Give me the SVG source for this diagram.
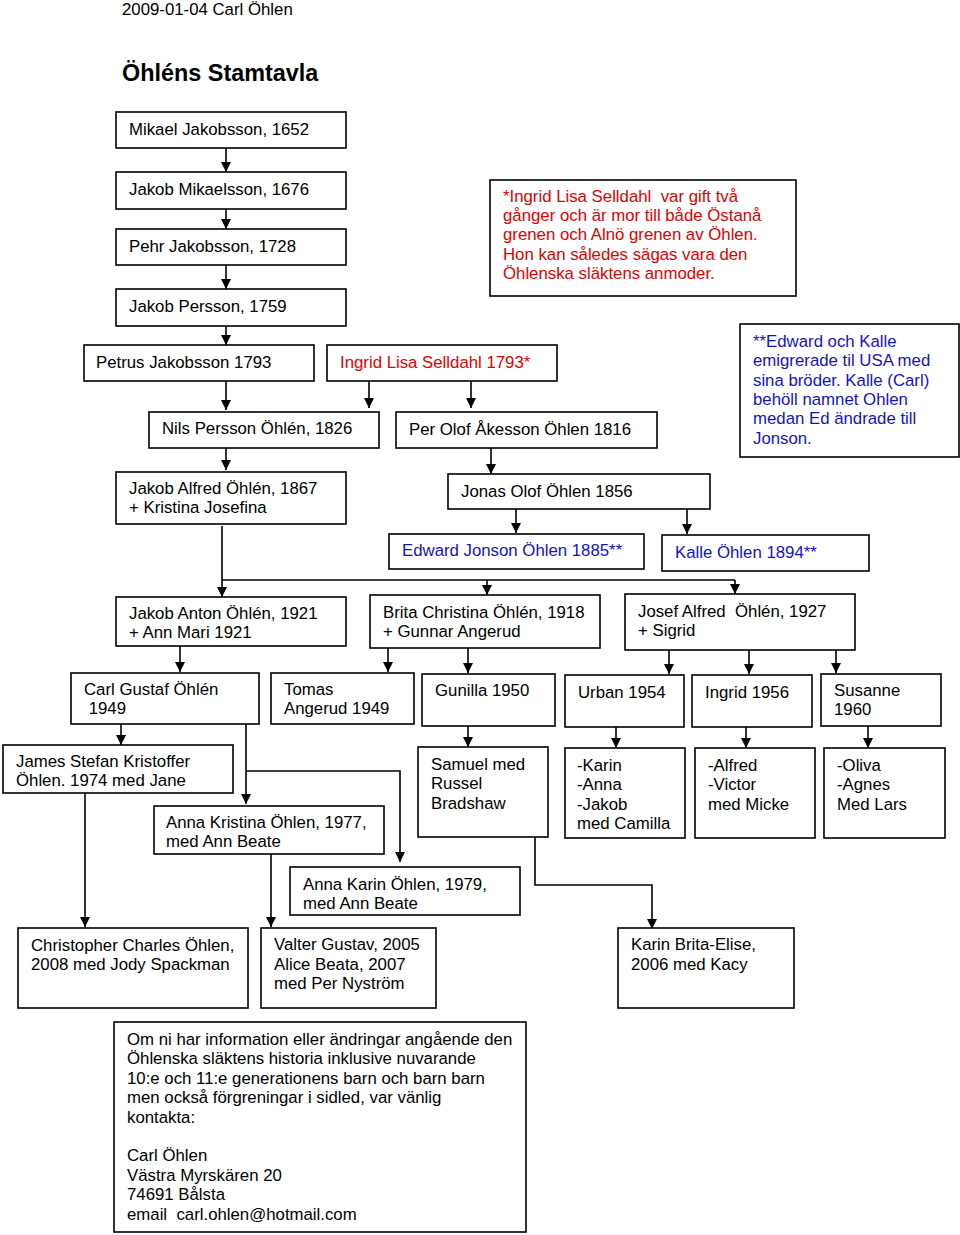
<svg xmlns="http://www.w3.org/2000/svg" width="960" height="1235" viewBox="0 0 960 1235">
<style>
text{font-family:"Liberation Sans",Arial,sans-serif;font-size:16.8px;fill:#000;white-space:pre}
.box{fill:#fff;stroke:#000;stroke-width:1.6}
.red{fill:#e00000}
.blue{fill:#1414c0}
.title{font-weight:bold;font-size:23.4px}
.c{fill:none;stroke:#000;stroke-width:1.6}
</style>
<defs>
<marker id="ah" viewBox="0 0 10 10" refX="10" refY="5" markerWidth="12" markerHeight="10" markerUnits="userSpaceOnUse" orient="auto">
<path d="M0,0 L10,5 L0,10 z" fill="#000"/>
</marker>
</defs>
<rect width="960" height="1235" fill="#fff"/>
<text x="122" y="15">2009-01-04 Carl Öhlen</text>
<text class="title" x="122" y="81">Öhléns Stamtavla</text>

<g id="connectors">
<line class="c" x1="226" y1="148" x2="226" y2="172" marker-end="url(#ah)"/>
<line class="c" x1="226" y1="209" x2="226" y2="229" marker-end="url(#ah)"/>
<line class="c" x1="226" y1="265" x2="226" y2="289" marker-end="url(#ah)"/>
<line class="c" x1="226" y1="326" x2="226" y2="345" marker-end="url(#ah)"/>
<line class="c" x1="226" y1="381" x2="226" y2="410" marker-end="url(#ah)"/>
<line class="c" x1="369" y1="381" x2="369" y2="408" marker-end="url(#ah)"/>
<line class="c" x1="471" y1="381" x2="471" y2="408" marker-end="url(#ah)"/>
<line class="c" x1="226" y1="448" x2="226" y2="470" marker-end="url(#ah)"/>
<line class="c" x1="491" y1="448" x2="491" y2="474" marker-end="url(#ah)"/>
<line class="c" x1="516" y1="509" x2="516" y2="533" marker-end="url(#ah)"/>
<line class="c" x1="687" y1="509" x2="687" y2="534" marker-end="url(#ah)"/>
<polyline class="c" points="222,526 222,580 735,580"/>
<line class="c" x1="222" y1="580" x2="222" y2="597" marker-end="url(#ah)"/>
<line class="c" x1="487" y1="580" x2="487" y2="595" marker-end="url(#ah)"/>
<line class="c" x1="735" y1="580" x2="735" y2="594" marker-end="url(#ah)"/>
<line class="c" x1="180" y1="646" x2="180" y2="672" marker-end="url(#ah)"/>
<line class="c" x1="388" y1="648" x2="388" y2="672" marker-end="url(#ah)"/>
<line class="c" x1="468" y1="648" x2="468" y2="673" marker-end="url(#ah)"/>
<line class="c" x1="669" y1="650" x2="669" y2="674" marker-end="url(#ah)"/>
<line class="c" x1="749" y1="650" x2="749" y2="674" marker-end="url(#ah)"/>
<line class="c" x1="836" y1="650" x2="836" y2="673" marker-end="url(#ah)"/>
<line class="c" x1="121" y1="724" x2="121" y2="745" marker-end="url(#ah)"/>
<line class="c" x1="246" y1="724" x2="246" y2="804" marker-end="url(#ah)"/>
<polyline class="c" points="246,771 400,771 400,862" marker-end="url(#ah)"/>
<line class="c" x1="468" y1="726" x2="468" y2="747" marker-end="url(#ah)"/>
<line class="c" x1="616" y1="727" x2="616" y2="748" marker-end="url(#ah)"/>
<line class="c" x1="746" y1="727" x2="746" y2="748" marker-end="url(#ah)"/>
<line class="c" x1="868" y1="726" x2="868" y2="748" marker-end="url(#ah)"/>
<line class="c" x1="85" y1="793" x2="85" y2="927" marker-end="url(#ah)"/>
<line class="c" x1="271" y1="854" x2="271" y2="927" marker-end="url(#ah)"/>
<polyline class="c" points="535,837 535,885 652,885 652,929" marker-end="url(#ah)"/>
</g>

<g id="n-mikael"><rect class="box" x="116" y="112" width="230" height="36"/><text x="129" y="135">Mikael Jakobsson, 1652</text></g>
<g id="n-jakobm"><rect class="box" x="116" y="172" width="230" height="37"/><text x="129" y="195">Jakob Mikaelsson, 1676</text></g>
<g id="n-pehr"><rect class="box" x="116" y="229" width="230" height="36"/><text x="129" y="252">Pehr Jakobsson, 1728</text></g>
<g id="n-jakobp"><rect class="box" x="116" y="289" width="230" height="37"/><text x="129" y="312">Jakob Persson, 1759</text></g>
<g id="note-ingrid"><rect class="box" x="490" y="180" width="306" height="116"/>
<text class="red"><tspan x="503" y="202">*Ingrid Lisa Selldahl  var gift två</tspan><tspan x="503" y="221">gånger och är mor till både Östanå</tspan><tspan x="503" y="240">grenen och Alnö grenen av Öhlen.</tspan><tspan x="503" y="260">Hon kan således sägas vara den</tspan><tspan x="503" y="279">Öhlenska släktens anmoder.</tspan></text></g>
<g id="n-petrus"><rect class="box" x="84" y="345" width="230" height="36"/><text x="96" y="368">Petrus Jakobsson 1793</text></g>
<g id="n-ingrid"><rect class="box" x="327" y="345" width="230" height="36"/><text class="red" x="340" y="368">Ingrid Lisa Selldahl 1793*</text></g>
<g id="note-edward"><rect class="box" x="740" y="324" width="219" height="133"/>
<text class="blue"><tspan x="753" y="347">**Edward och Kalle</tspan><tspan x="753" y="366">emigrerade til USA med</tspan><tspan x="753" y="386">sina bröder. Kalle (Carl)</tspan><tspan x="753" y="405">behöll namnet Ohlen</tspan><tspan x="753" y="424">medan Ed ändrade till</tspan><tspan x="753" y="444">Jonson.</tspan></text></g>
<g id="n-nils"><rect class="box" x="149" y="412" width="230" height="36"/><text x="162" y="434">Nils Persson Öhlén, 1826</text></g>
<g id="n-perolof"><rect class="box" x="396" y="412" width="261" height="36"/><text x="409" y="435">Per Olof Åkesson Öhlen 1816</text></g>
<g id="n-jakobalfred"><rect class="box" x="116" y="472" width="230" height="52"/><text><tspan x="129" y="494">Jakob Alfred Öhlén, 1867</tspan><tspan x="129" y="513">+ Kristina Josefina</tspan></text></g>
<g id="n-jonas"><rect class="box" x="448" y="474" width="262" height="35"/><text x="461" y="497">Jonas Olof Öhlen 1856</text></g>
<g id="n-edward"><rect class="box" x="389" y="534" width="255" height="35"/><text class="blue" x="402" y="556">Edward Jonson Öhlen 1885**</text></g>
<g id="n-kalle"><rect class="box" x="662" y="535" width="207" height="36"/><text class="blue" x="675" y="558">Kalle Öhlen 1894**</text></g>
<g id="n-jakobanton"><rect class="box" x="116" y="597" width="230" height="49"/><text><tspan x="129" y="619">Jakob Anton Öhlén, 1921</tspan><tspan x="129" y="638">+ Ann Mari 1921</tspan></text></g>
<g id="n-brita"><rect class="box" x="370" y="595" width="230" height="53"/><text><tspan x="383" y="618">Brita Christina Öhlén, 1918</tspan><tspan x="383" y="637">+ Gunnar Angerud</tspan></text></g>
<g id="n-josef"><rect class="box" x="625" y="594" width="230" height="56"/><text><tspan x="638" y="617">Josef Alfred  Öhlén, 1927</tspan><tspan x="638" y="636">+ Sigrid</tspan></text></g>
<g id="n-carlgustaf"><rect class="box" x="71" y="673" width="188" height="51"/><text><tspan x="84" y="695">Carl Gustaf Öhlén</tspan><tspan x="84" y="714"> 1949</tspan></text></g>
<g id="n-tomas"><rect class="box" x="271" y="673" width="143" height="51"/><text><tspan x="284" y="695">Tomas</tspan><tspan x="284" y="714">Angerud 1949</tspan></text></g>
<g id="n-gunilla"><rect class="box" x="422" y="674" width="133" height="52"/><text x="435" y="696">Gunilla 1950</text></g>
<g id="n-urban"><rect class="box" x="565" y="675" width="119" height="52"/><text x="578" y="698">Urban 1954</text></g>
<g id="n-ingrid1956"><rect class="box" x="692" y="675" width="120" height="52"/><text x="705" y="698">Ingrid 1956</text></g>
<g id="n-susanne"><rect class="box" x="821" y="674" width="120" height="52"/><text><tspan x="834" y="696">Susanne</tspan><tspan x="834" y="715">1960</tspan></text></g>
<g id="n-james"><rect class="box" x="3" y="745" width="230" height="48"/><text><tspan x="16" y="767">James Stefan Kristoffer</tspan><tspan x="16" y="786">Öhlen. 1974 med Jane</tspan></text></g>
<g id="n-samuel"><rect class="box" x="418" y="747" width="130" height="90"/><text><tspan x="431" y="770">Samuel med</tspan><tspan x="431" y="789">Russel</tspan><tspan x="431" y="809">Bradshaw</tspan></text></g>
<g id="n-karin"><rect class="box" x="565" y="748" width="120" height="90"/><text><tspan x="577" y="771">-Karin</tspan><tspan x="577" y="790">-Anna</tspan><tspan x="577" y="810">-Jakob</tspan><tspan x="577" y="829">med Camilla</tspan></text></g>
<g id="n-alfred"><rect class="box" x="695" y="748" width="120" height="90"/><text><tspan x="708" y="771">-Alfred</tspan><tspan x="708" y="790">-Victor</tspan><tspan x="708" y="810">med Micke</tspan></text></g>
<g id="n-oliva"><rect class="box" x="824" y="748" width="121" height="90"/><text><tspan x="837" y="771">-Oliva</tspan><tspan x="837" y="790">-Agnes</tspan><tspan x="837" y="810">Med Lars</tspan></text></g>
<g id="n-annakristina"><rect class="box" x="154" y="806" width="230" height="48"/><text><tspan x="166" y="828">Anna Kristina Öhlen, 1977,</tspan><tspan x="166" y="847">med Ann Beate</tspan></text></g>
<g id="n-annakarin"><rect class="box" x="290" y="867" width="230" height="48"/><text><tspan x="303" y="890">Anna Karin Öhlen, 1979,</tspan><tspan x="303" y="909">med Ann Beate</tspan></text></g>
<g id="n-christopher"><rect class="box" x="18" y="928" width="230" height="80"/><text><tspan x="31" y="951">Christopher Charles Öhlen,</tspan><tspan x="31" y="970">2008 med Jody Spackman</tspan></text></g>
<g id="n-valter"><rect class="box" x="261" y="928" width="175" height="80"/><text><tspan x="274" y="950">Valter Gustav, 2005</tspan><tspan x="274" y="970">Alice Beata, 2007</tspan><tspan x="274" y="989">med Per Nyström</tspan></text></g>
<g id="n-karinbrita"><rect class="box" x="618" y="928" width="176" height="80"/><text><tspan x="631" y="950">Karin Brita-Elise,</tspan><tspan x="631" y="970">2006 med Kacy</tspan></text></g>
<g id="info"><rect class="box" x="114" y="1022" width="412" height="210"/>
<text><tspan x="127" y="1045">Om ni har information eller ändringar angående den</tspan><tspan x="127" y="1064">Öhlenska släktens historia inklusive nuvarande</tspan><tspan x="127" y="1084">10:e och 11:e generationens barn och barn barn</tspan><tspan x="127" y="1103">men också förgreningar i sidled, var vänlig</tspan><tspan x="127" y="1123">kontakta:</tspan><tspan x="127" y="1161">Carl Öhlen</tspan><tspan x="127" y="1181">Västra Myrskären 20</tspan><tspan x="127" y="1200">74691 Bålsta</tspan><tspan x="127" y="1220">email  carl.ohlen@hotmail.com</tspan></text></g>
</svg>
